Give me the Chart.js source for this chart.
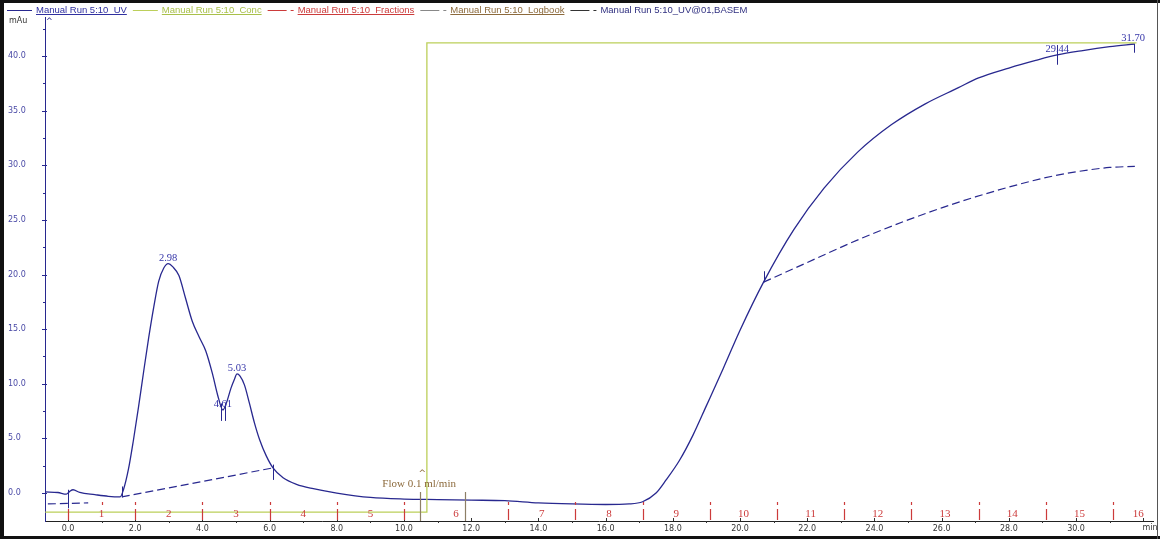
<!DOCTYPE html>
<html>
<head>
<meta charset="utf-8">
<script src="https://cdn.jsdelivr.net/npm/chart.js@4.4.1/dist/chart.umd.min.js"></script>
<style>
  body { margin: 0; background: #fff; }
</style>
</head>
<body>
<canvas id="chrom" width="1160" height="539"></canvas>
<script>
// UV trace, time in min, absorbance in mAu
const uvTime = [-0.68, -0.3, -0.05, 0.05, 0.15, 0.35, 0.8, 1.2, 1.55, 1.65, 1.8, 1.95, 2.1, 2.25, 2.4, 2.55, 2.7, 2.85, 2.98,
  3.12, 3.3, 3.5, 3.7, 3.9, 4.1, 4.3, 4.45, 4.61, 4.72, 4.85, 4.95, 5.03, 5.12, 5.25, 5.4, 5.55, 5.7, 5.9, 6.1,
  6.4, 6.8, 7.3, 8.0, 9.0, 10.0, 11.0, 12.0, 13.0, 14.0, 15.0, 16.0, 16.7, 17.1, 17.5, 17.8, 18.2, 18.6, 19.0,
  19.5, 20.0, 20.7, 21.6, 22.5, 23.5, 24.5, 25.5, 26.5, 27.1, 28.0, 28.8, 29.44, 30.2, 31.0, 31.75];
const uvValue = [0.1, 0.05, -0.1, 0.15, 0.3, 0.05, -0.15, -0.3, -0.35, 0.3, 2.2, 4.9, 7.9, 11.1, 14.2, 17.0, 19.4, 20.6, 21.0,
  20.7, 19.9, 17.8, 15.7, 14.3, 13.0, 10.9, 9.0, 7.6, 8.3, 9.6, 10.4, 10.9, 10.7, 9.9, 8.2, 6.4, 4.9, 3.4, 2.3,
  1.4, 0.8, 0.4, 0.0, -0.4, -0.55, -0.6, -0.65, -0.7, -0.9, -1.0, -1.05, -1.0, -0.8, 0.0, 1.2, 3.0, 5.3, 8.0,
  11.4, 14.9, 19.3, 24.1, 27.9, 31.2, 33.7, 35.6, 37.1, 38.0, 38.9, 39.6, 40.1, 40.5, 40.85, 41.1];

// integration baselines (UV@01,BASEM)
const base0Time = [-0.6, 0.6];
const base0Value = [-1.0, -0.9];
const base1Time = [1.6, 6.1];
const base1Value = [-0.35, 2.3];
const base2Time = [20.7, 22.0, 23.3, 24.0, 25.0, 26.0, 27.0, 28.0, 29.0, 30.0, 31.0, 31.75];
const base2Value = [19.3, 21.1, 22.9, 23.8, 25.0, 26.1, 27.1, 28.0, 28.8, 29.4, 29.8, 29.9];

// concentration step
const concTime = [-0.68, 10.68, 10.68, 31.8];
const concValue = [-1.75, -1.75, 41.2, 41.2];

// fractions
const fracBounds = [0, 2, 4, 6, 8, 10, 13.1, 15.1, 17.1, 19.1, 21.1, 23.1, 25.1, 27.1, 29.1, 31.1, 32.6];
const fracNames = ['1', '2', '3', '4', '5', '6', '7', '8', '9', '10', '11', '12', '13', '14', '15', '16'];
const fracMarks = [1, 2, 4, 6, 8, 10, 13.1, 15.1, 17.1, 19.1, 21.1, 23.1, 25.1, 27.1, 29.1, 31.1];

// logbook events
const logTimes = [10.48, 11.8];
const logText = 'Flow 0.1 ml/min';

// peaks
const peakTimes = [2.98, 4.61, 5.03, 29.44, 31.70];
const peakHeights = [21.0, 7.6, 10.9, 40.1, 41.1];
const peakNames = ['2.98', '4.61', '5.03', '29.44', '31.70'];

// integration marks: time, top, bottom (mAu)
const markTimes = [0.0, 1.6, 4.55, 4.68, 6.1, 20.7, 29.44, 31.72];
const markTop = [0.3, 0.6, 8.2, 8.2, 2.6, 20.3, 41.0, 41.1];
const markBottom = [-1.4, -0.4, 6.6, 6.6, 1.2, 19.3, 39.2, 40.3];

const xTicks = [0, 2, 4, 6, 8, 10, 12, 14, 16, 18, 20, 22, 24, 26, 28, 30];
const yTicks = [0, 5, 10, 15, 20, 25, 30, 35, 40];

const legendNames = ['Manual Run 5:10  UV', 'Manual Run 5:10  Conc', 'Manual Run 5:10  Fractions',
  'Manual Run 5:10  Logbook', 'Manual Run 5:10_UV@01,BASEM'];

const NAVY = '#28288f';
const GREEN = '#bccf5a';
const RED = '#cc3b3b';
const BROWN = '#8c6a3c';

function pts(xs, ys) {
    return xs.map((t, i) => ({ x: t, y: ys[i] }));
}

const decor = {
    id: 'decor',
    beforeDraw(chart) {
        const ctx = chart.ctx;
        ctx.save();
        ctx.fillStyle = '#fff';
        ctx.fillRect(0, 0, chart.width, chart.height);
        ctx.restore();
    },
    afterDraw(chart) {
        const { ctx, chartArea: a, scales: { x, y } } = chart;
        ctx.save();
        ctx.lineWidth = 1;

        // x ticks
        ctx.strokeStyle = '#333';
        for (let t = 0; t <= 32; t++) {
            const px = Math.round(x.getPixelForValue(t)) + 0.5;
            ctx.beginPath();
            if (t % 2 === 0) { ctx.moveTo(px, a.bottom - 3); ctx.lineTo(px, a.bottom); }
            else { ctx.moveTo(px, a.bottom); ctx.lineTo(px, a.bottom + 2); }
            ctx.stroke();
        }
        // y ticks
        ctx.strokeStyle = NAVY;
        for (let v = 0; v <= 42.5; v += 2.5) {
            const py = Math.round(y.getPixelForValue(v)) + 0.5;
            const major = v % 5 === 0;
            ctx.beginPath();
            ctx.moveTo(a.left - (major ? 3 : 2), py);
            ctx.lineTo(a.left + (major ? 2 : 1), py);
            ctx.stroke();
        }

        // fractions
        ctx.strokeStyle = RED;
        ctx.lineWidth = 1.2;
        fracBounds.slice(0, -1).forEach(t => {
            const px = Math.round(x.getPixelForValue(t)) + 0.5;
            ctx.beginPath(); ctx.moveTo(px, a.bottom - 12); ctx.lineTo(px, a.bottom - 1); ctx.stroke();
        });
        fracMarks.forEach(t => {
            const px = Math.round(x.getPixelForValue(t)) + 0.5;
            ctx.beginPath(); ctx.moveTo(px, a.bottom - 19); ctx.lineTo(px, a.bottom - 16); ctx.stroke();
        });
        ctx.fillStyle = RED;
        ctx.font = '11px "Liberation Serif"';
        ctx.textAlign = 'center';
        ctx.textBaseline = 'middle';
        fracNames.forEach((n, i) => {
            const px = x.getPixelForValue((fracBounds[i] + fracBounds[i + 1]) / 2);
            ctx.fillText(n, px, a.bottom - 7);
        });

        // logbook
        ctx.strokeStyle = '#8d7f66';
        ctx.lineWidth = 1.2;
        logTimes.forEach(t => {
            const px = Math.round(x.getPixelForValue(t)) + 0.5;
            ctx.beginPath(); ctx.moveTo(px, a.bottom - 29); ctx.lineTo(px, a.bottom); ctx.stroke();
        });
        ctx.fillStyle = BROWN;
        ctx.font = '11px "Liberation Serif"';
        const lx = x.getPixelForValue(logTimes[0]);
        ctx.fillText(logText, lx - 1, a.bottom - 37);
        ctx.font = '9px "DejaVu Sans"';
        ctx.fillText('^', lx + 2, a.bottom - 47);

        // integration marks
        ctx.strokeStyle = NAVY;
        ctx.lineWidth = 1;
        markTimes.forEach((t, i) => {
            const px = Math.round(x.getPixelForValue(t)) + 0.5;
            ctx.beginPath();
            ctx.moveTo(px, y.getPixelForValue(markTop[i]));
            ctx.lineTo(px, y.getPixelForValue(markBottom[i]));
            ctx.stroke();
        });

        // peak labels
        ctx.fillStyle = '#3434a8';
        ctx.font = '10.5px "Liberation Serif"';
        ctx.textBaseline = 'alphabetic';
        peakNames.forEach((n, i) => {
            ctx.fillText(n, x.getPixelForValue(peakTimes[i]), y.getPixelForValue(peakHeights[i]) - 3);
        });

        // axis captions
        ctx.font = '8px "DejaVu Sans"';
        ctx.textBaseline = 'middle';
        ctx.textAlign = 'left';
        ctx.fillStyle = '#333';
        ctx.fillText('mAu', 9, 21);
        ctx.fillStyle = NAVY;
        ctx.fillText('^', a.left + 1, 22);
        ctx.textAlign = 'center';
        ctx.fillStyle = '#333';
        ctx.fillText('min', 1150, 528);

        // legend strip
        const styles = [
            { color: NAVY, dash: false, tc: '#3030a0', ul: true },
            { color: GREEN, dash: false, tc: '#a9c04a', ul: true },
            { color: RED, dash: true, tc: RED, ul: true },
            { color: '#888', dash: true, tc: BROWN, ul: true },
            { color: '#333', dash: true, tc: '#303080', ul: false }
        ];
        ctx.font = '9.5px "Liberation Sans"';
        ctx.textAlign = 'left';
        let lxp = 7;
        legendNames.forEach((name, i) => {
            const st = styles[i];
            ctx.strokeStyle = st.color;
            ctx.lineWidth = 1;
            const len = st.dash ? 19 : 25;
            ctx.beginPath(); ctx.moveTo(lxp, 10.5); ctx.lineTo(lxp + len, 10.5); ctx.stroke();
            let tx = lxp + len + 4;
            if (st.dash) {
                ctx.beginPath(); ctx.moveTo(tx, 10.5); ctx.lineTo(tx + 3, 10.5); ctx.stroke();
                tx += 7;
            }
            ctx.fillStyle = st.tc;
            ctx.fillText(name, tx, 10);
            const w = ctx.measureText(name).width;
            if (st.ul) {
                ctx.strokeStyle = st.tc;
                ctx.beginPath(); ctx.moveTo(tx, 14.5); ctx.lineTo(tx + w, 14.5); ctx.stroke();
            }
            lxp = tx + w + 6;
        });

        // frame
        ctx.fillStyle = '#111';
        ctx.fillRect(0, 0, chart.width, 3);
        ctx.fillRect(0, 0, 4, chart.height);
        ctx.fillRect(0, chart.height - 3, chart.width, 3);
        ctx.fillStyle = '#555';
        ctx.fillRect(chart.width - 3, 0, 1, chart.height);
        ctx.restore();
    }
};

new Chart(document.getElementById('chrom'), {
    type: 'line',
    data: {
        datasets: [
            { data: pts(concTime, concValue), borderColor: GREEN, borderWidth: 1.3, tension: 0 },
            { data: pts(base0Time, base0Value), borderColor: NAVY, borderWidth: 1.2, borderDash: [8, 4] },
            { data: pts(base1Time, base1Value), borderColor: NAVY, borderWidth: 1.2, borderDash: [8, 4] },
            { data: pts(base2Time, base2Value), borderColor: NAVY, borderWidth: 1.2, borderDash: [8, 4], cubicInterpolationMode: 'monotone' },
            { data: pts(uvTime, uvValue), borderColor: NAVY, borderWidth: 1.3, cubicInterpolationMode: 'monotone' }
        ]
    },
    options: {
        responsive: false,
        animation: false,
        devicePixelRatio: 1,
        elements: { point: { radius: 0 } },
        layout: { padding: { left: 8, top: 17, right: 7, bottom: 0 } },
        plugins: { legend: { display: false }, tooltip: { enabled: false } },
        scales: {
            x: {
                type: 'linear',
                min: -0.685,
                max: 32.29,
                grid: { display: false, drawTicks: false },
                border: { display: true, color: '#222', width: 1 },
                afterBuildTicks: s => { s.ticks = xTicks.map(v => ({ value: v })); },
                afterFit: s => { s.height = 18; },
                ticks: {
                    padding: 3,
                    autoSkip: false,
                    maxRotation: 0,
                    color: '#333',
                    font: { family: 'DejaVu Sans', size: 8 },
                    callback: v => v.toFixed(1)
                }
            },
            y: {
                min: -2.56,
                max: 43.57,
                grid: { display: false, drawTicks: false },
                border: { display: true, color: NAVY, width: 1 },
                afterBuildTicks: s => { s.ticks = yTicks.map(v => ({ value: v })); },
                afterFit: s => { s.width = 37; },
                ticks: {
                    crossAlign: 'far',
                    color: '#4a4aa6',
                    font: { family: 'DejaVu Sans', size: 8 },
                    callback: v => v.toFixed(1)
                }
            }
        }
    },
    plugins: [decor]
});
</script>
</body>
</html>
